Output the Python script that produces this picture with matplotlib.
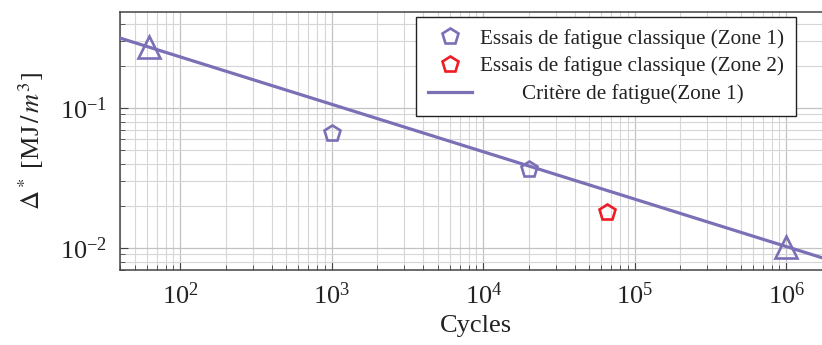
import matplotlib
matplotlib.use("Agg")
import matplotlib.pyplot as plt
from matplotlib.ticker import LogLocator, NullFormatter

# Data
zone1_cycles = [1000, 20000]
zone1_delta = [0.0665, 0.0366]
zone2_cycles = [65000]
zone2_delta = [0.0182]
crit_cycles = [40, 2.0e6]
crit_delta = [0.316, 0.0081]
tri_cycles = [62, 1.0e6]
tri_delta = [0.274, 0.0101]

PURPLE = "#7a70b6"
RED = "#ee1c25"

plt.rcParams["font.family"] = ["Liberation Serif", "DejaVu Serif"]
plt.rcParams["mathtext.fontset"] = "stix"

W, H = 822, 345
fig = plt.figure(figsize=(W / 100, H / 100), dpi=100)
L, R, T, B = 120, 832, 12, 270
ax = fig.add_axes([L / W, 1 - B / H, (R - L) / W, (B - T) / H])

ax.set_xscale("log")
ax.set_yscale("log")
ax.set_xlim(40, 2.0e6)
ax.set_ylim(0.00697, 0.485)

ax.grid(True, which="minor", color="#d6d6d6", linewidth=0.8)
ax.grid(True, which="major", color="#c2c2c2", linewidth=0.9)
ax.set_axisbelow(True)

LW = 2.3
MEW = 1.9
ax.plot(crit_cycles, crit_delta, color=PURPLE, linewidth=LW, zorder=3)
ax.plot(tri_cycles, tri_delta, linestyle="none", marker="^", markersize=15.5,
        markerfacecolor="none", markeredgecolor=PURPLE, markeredgewidth=MEW, zorder=4)
ax.plot(zone1_cycles, zone1_delta, linestyle="none", marker="p", markersize=12,
        markerfacecolor="none", markeredgecolor=PURPLE, markeredgewidth=MEW, zorder=4)
ax.plot(zone2_cycles, zone2_delta, linestyle="none", marker="p", markersize=12,
        markerfacecolor="none", markeredgecolor=RED, markeredgewidth=MEW, zorder=4)

h1 = plt.Line2D([], [], linestyle="none", marker="p", markersize=12,
                markerfacecolor="none", markeredgecolor=PURPLE, markeredgewidth=MEW)
h2 = plt.Line2D([], [], linestyle="none", marker="p", markersize=12,
                markerfacecolor="none", markeredgecolor=RED, markeredgewidth=MEW)
h3 = plt.Line2D([], [], color=PURPLE, linewidth=LW)
leg = ax.legend([h1, h2, h3],
                ["Essais de fatigue classique (Zone 1)",
                 "Essais de fatigue classique (Zone 2)",
                 "        Critère de fatigue(Zone 1)"],
                loc="upper right", bbox_to_anchor=((796 - L) / (R - L), (B - 17) / (B - T)),
                borderaxespad=0, fontsize=15.2, frameon=True, fancybox=False,
                edgecolor="#222222", framealpha=1, handlelength=2.1,
                handletextpad=0.4, labelspacing=0.38, borderpad=0.55)
leg.get_frame().set_linewidth(1.0)
leg.set_zorder(5)
for t in leg.get_texts():
    t.set_color("#222222")

ax.xaxis.set_major_locator(LogLocator(base=10, numticks=20))
ax.xaxis.set_minor_locator(LogLocator(base=10, subs=range(2, 10), numticks=100))
ax.yaxis.set_minor_locator(LogLocator(base=10, subs=range(2, 10), numticks=100))
ax.xaxis.set_minor_formatter(NullFormatter())
ax.yaxis.set_minor_formatter(NullFormatter())

ax.tick_params(which="both", direction="in", colors="#444444", labelcolor="#222222",
               labelsize=19)
ax.tick_params(which="major", length=6, width=0.8)
ax.tick_params(which="minor", length=3.5, width=0.6)
ax.tick_params(axis="x", pad=9)
ax.tick_params(axis="y", pad=9)

for s in ax.spines.values():
    s.set_color("#444444")
    s.set_linewidth(1.1)

ax.set_xlabel("Cycles", fontsize=19, color="#222222", labelpad=4)
ax.set_ylabel(r"$\Delta^*$ [MJ$\,/\,m^3$]", fontsize=19, color="#222222", labelpad=10)

fig.savefig("out.png", dpi=100)
